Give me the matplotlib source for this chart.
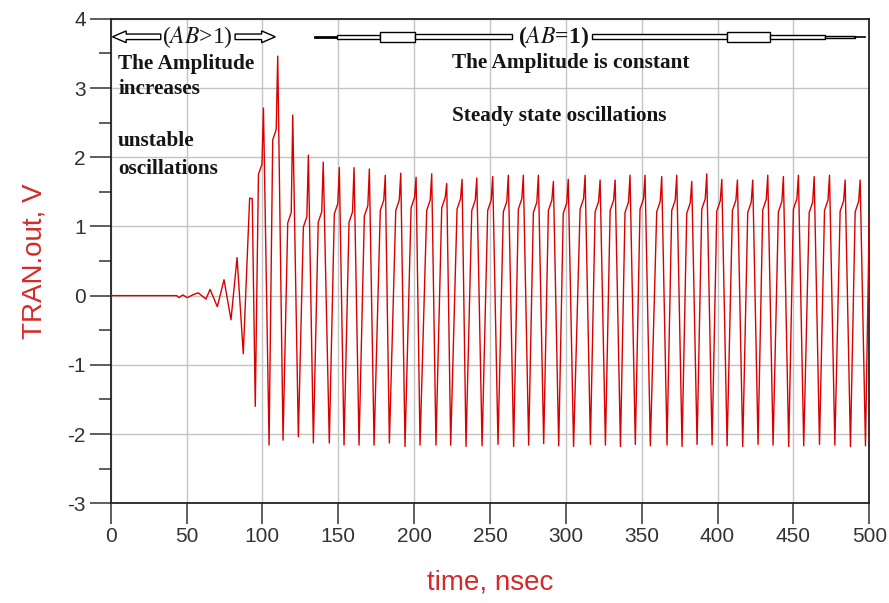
import numpy as np
import matplotlib
matplotlib.use('Agg')
import matplotlib.pyplot as plt
from matplotlib.patches import FancyArrow, Rectangle

plt.rcParams['mathtext.fontset'] = 'stix'
plt.rcParams['axes.unicode_minus'] = False

# onset of the oscillation (t in nsec, value in V)
early_t = [0, 43.5, 45.0, 47.5, 50.5, 54.0, 57.7, 62.8, 65.5, 70.3, 74.7, 79.3, 83.3, 87.4, 91.6, 93.3, 95.3]
early_v = [0, 0, -0.03, 0.01, -0.03, 0.01, 0.04, -0.05, 0.09, -0.16, 0.23, -0.35, 0.55, -0.84, 1.41, 1.40, -1.60]

# per cycle: peak, shoulder just before the peak, trough after the peak
peak_t = [100.7, 110.1, 120.0, 130.3, 140.1, 150.7, 160.4, 170.5, 181.0, 191.2,
          201.3, 211.6, 221.5, 231.6, 241.3, 251.8, 262.1, 272.0, 281.9, 291.8,
          301.6, 312.7, 322.6, 332.5, 342.3, 352.2, 363.2, 373.1, 383.0, 392.9,
          402.8, 413.1, 423.2, 433.1, 443.4, 453.3, 463.7, 473.8, 484.1, 494.0]
peak_v = [2.71, 3.46, 2.61, 2.03, 1.93, 1.85, 1.85, 1.83, 1.74, 1.77,
          1.71, 1.76, 1.62, 1.68, 1.70, 1.72, 1.74, 1.74, 1.74, 1.65,
          1.68, 1.74, 1.67, 1.67, 1.74, 1.74, 1.72, 1.74, 1.65, 1.76,
          1.68, 1.67, 1.67, 1.74, 1.72, 1.74, 1.72, 1.74, 1.67, 1.67]
shoulder_v = [1.90, 2.40, 1.20, 1.14, 1.21, 1.33, 1.21, 1.30, 1.38, 1.38,
              1.42, 1.38, 1.42, 1.40, 1.38, 1.38, 1.36, 1.40, 1.35, 1.38,
              1.34, 1.40, 1.36, 1.38, 1.35, 1.40, 1.36, 1.38, 1.34, 1.40,
              1.37, 1.38, 1.35, 1.39, 1.36, 1.40, 1.35, 1.38, 1.37, 1.36]
trough_t = [104.4, 113.6, 123.7, 133.6, 144.1, 153.8, 163.7, 173.6, 183.7, 194.0,
            203.9, 214.4, 224.1, 234.2, 244.8, 255.3, 265.6, 275.5, 285.4, 295.3,
            305.1, 316.2, 326.1, 336.0, 345.8, 355.7, 366.7, 376.6, 386.5, 396.4,
            406.3, 416.6, 426.7, 436.6, 446.9, 456.8, 467.2, 477.3, 487.6, 497.5]
trough_v = [-2.16, -2.09, -2.04, -2.13, -2.13, -2.16, -2.16, -2.16, -2.13, -2.18,
            -2.16, -2.16, -2.16, -2.18, -2.17, -2.15, -2.18, -2.16, -2.14, -2.17,
            -2.18, -2.15, -2.16, -2.18, -2.15, -2.17, -2.16, -2.18, -2.15, -2.16,
            -2.17, -2.18, -2.15, -2.16, -2.18, -2.17, -2.15, -2.16, -2.18, -2.17]
end_t = [500.0]
end_v = [1.15]

x_ticks = [0, 50, 100, 150, 200, 250, 300, 350, 400, 450, 500]
y_ticks = [-3, -2, -1, 0, 1, 2, 3, 4]

# build the waveform: rise -> shoulder -> peak -> fast fall
t = list(early_t)
v = list(early_v)
for tp, vp, vs, tt, vt in zip(peak_t, peak_v, shoulder_v, trough_t, trough_v):
    t += [tp - 3.3, tp - 1.0, tp, tt]
    v += [vs - 0.15, vs, vp, vt]
t += end_t
v += end_v

red = '#d90000'
lab_red = '#d42a2a'

fig = plt.figure(figsize=(8.89, 6.03), dpi=100)
ax = fig.add_axes([0.1245, 0.1655, 0.8533, 0.8033])
ax.plot(t, v, color=red, lw=1.0, zorder=3)

ax.set_xlim(0, 500)
ax.set_ylim(-3, 4)
ax.set_xticks(x_ticks)
ax.set_yticks(y_ticks)
ax.set_yticks(np.arange(-2.5, 4, 1.0), minor=True)
ax.grid(True, which='major', color='#c4c4c4', lw=1.0, zorder=0)
for s in ax.spines.values():
    s.set_linewidth(1.3)
    s.set_color('#222222')
ax.tick_params(axis='both', which='major', direction='out', length=15, width=1.1,
               labelsize=15, labelcolor='#333333', color='#333333')
ax.tick_params(axis='y', which='minor', direction='out', length=9, width=1.1, color='#333333')
ax.tick_params(axis='y', pad=3)
ax.tick_params(axis='x', pad=2)
for lbl in ax.get_xticklabels() + ax.get_yticklabels():
    lbl.set_family('Liberation Sans')

ax.set_ylabel('TRAN.out, V', color=lab_red, fontsize=20, family='Liberation Sans', labelpad=14)
ax.set_xlabel('time, nsec', color=lab_red, fontsize=20, family='Liberation Sans', labelpad=17)

# annotations
serif = 'Liberation Serif'
tc = '#151515'
ya = 3.74
ax.add_patch(FancyArrow(33.0, ya, -31.8, 0, width=0.08, head_width=0.17, head_length=9,
                        length_includes_head=True, fc='white', ec='black', lw=1.0, zorder=5))
ax.add_patch(FancyArrow(82.0, ya, 26.5, 0, width=0.08, head_width=0.17, head_length=9,
                        length_includes_head=True, fc='white', ec='black', lw=1.0, zorder=5))
ax.text(57.0, ya, r'($\mathit{AB}$>1)', fontsize=17, family=serif, color=tc,
        ha='center', va='center', zorder=6)


def bar(t0, t1, h):
    ax.add_patch(Rectangle((t0, ya - h), t1 - t0, 2 * h, fc='white', ec='black',
                           lw=1.0, zorder=5))


ax.plot([134.7, 149.2], [ya, ya], color='black', lw=2.0, zorder=5)
bar(149.2, 177.5, 0.025)
bar(177.5, 200.6, 0.07)
bar(200.6, 264.5, 0.036)
ax.text(292.0, ya, r'($\mathit{AB}$=1)', fontsize=17, family=serif, color=tc,
        ha='center', va='center', zorder=6, fontweight='bold')
bar(317.3, 406.3, 0.036)
bar(406.3, 434.6, 0.07)
bar(434.6, 470.9, 0.03)
bar(470.9, 490.6, 0.015)
ax.plot([490.6, 497.2], [ya, ya], color='black', lw=1.2, zorder=5)

kw = dict(fontsize=15.3, family=serif, fontweight='bold', color=tc, ha='left', va='center', zorder=6)
ax.text(4.9, 3.35, 'The Amplitude', **kw)
ax.text(4.9, 2.99, 'increases', **kw)
ax.text(4.9, 2.23, 'unstable', **kw)
ax.text(4.9, 1.83, 'oscillations', **kw)
ax.text(225.2, 3.36, 'The Amplitude is constant', **kw)
ax.text(225.2, 2.60, 'Steady state oscillations', **kw)

fig.savefig('out.png', dpi=100)
